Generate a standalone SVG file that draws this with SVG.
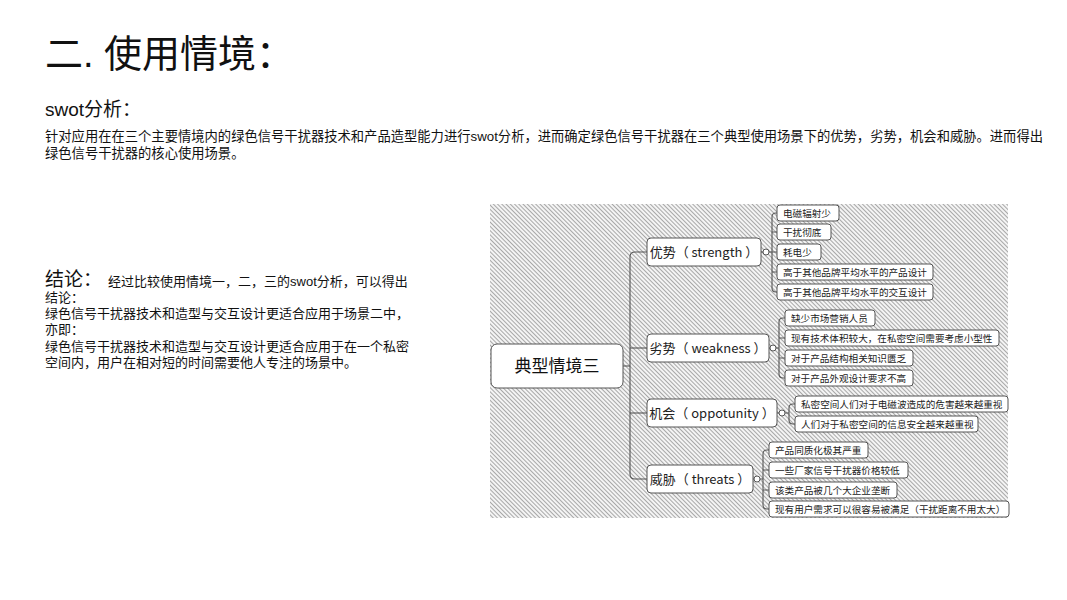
<svg xmlns="http://www.w3.org/2000/svg" width="1067" height="600" viewBox="0 0 1067 600">
<style>
text{font-family:"Liberation Sans","Noto Sans CJK SC",sans-serif;fill:#111}
.title{font-size:38px}
.h2{font-size:19px}
.p{font-size:13.3px}
.c{font-size:13px}
.root rect,.br rect{fill:#fff;stroke:#555;stroke-width:1}
.leaf rect{fill:#fff;stroke:#555;stroke-width:1}
.rt{font-size:17px;text-anchor:middle}
.bt{font-family:"Noto Sans CJK SC",sans-serif;font-size:13px;text-anchor:middle;fill:#222}
.lt{font-size:9.6px;fill:#222}
.con path{fill:none;stroke:#555;stroke-width:1.1}
.con circle{fill:#fff;stroke:#555;stroke-width:1}
</style>
<defs>
<pattern id="hatch" width="3" height="3" patternUnits="userSpaceOnUse" patternTransform="rotate(-45)">
<rect width="3" height="3" fill="#f4f4f4"/>
<line x1="0.5" y1="0" x2="0.5" y2="3" stroke="#a8a8a8" stroke-width="1"/>
</pattern>
</defs>
<rect width="1067" height="600" fill="#fff"/>
<text class="title" x="45" y="67">二. 使用情境：</text>
<text class="h2" x="45" y="116">swot分析：</text>
<text class="p" x="45" y="141">针对应用在在三个主要情境内的绿色信号干扰器技术和产品造型能力进行swot分析，进而确定绿色信号干扰器在三个典型使用场景下的优势，劣势，机会和威胁。进而得出</text>
<text class="p" x="45" y="158">绿色信号干扰器的核心使用场景。</text>
<text x="45" y="286"><tspan class="h2">结论：</tspan><tspan class="c" dx="6">经过比较使用情境一，二，三的swot分析，可以得出</tspan></text>
<text class="c" x="45" y="302">结论：</text>
<text class="c" x="45" y="318">绿色信号干扰器技术和造型与交互设计更适合应用于场景二中，</text>
<text class="c" x="45" y="334">亦即：</text>
<text class="c" x="45" y="351">绿色信号干扰器技术和造型与交互设计更适合应用于在一个私密</text>
<text class="c" x="45" y="367">空间内，用户在相对短的时间需要他人专注的场景中。</text>

<rect x="490" y="204" width="518" height="314" fill="url(#hatch)"/>

<g class="con" id="connectors">
<path d="M623,366 H630"/>
<path d="M647,252 H635 Q630,252 630,257 V474 Q630,479 635,479 H647"/>
<path d="M630,348 H647"/>
<path d="M630,413 H647"/>
<path d="M761,252 H763 M769,252 H777"/>
<path d="M777,213 H776 Q772,213 772,217 V288 Q772,292 776,292 H777 M772,232 H777 M772,272 H777"/>
<circle cx="766" cy="252" r="3"/>
<path d="M769,348 H770 M776,348 H779"/>
<path d="M785,318 H783 Q779,318 779,322 V374 Q779,378 783,378 H785 M779,338 H785 M779,358 H785"/>
<circle cx="773" cy="348" r="3"/>
<path d="M777,413 H779 M785,413 H789"/>
<path d="M795,404 H793 Q789,404 789,408 V420 Q789,424 793,424 H795"/>
<circle cx="782" cy="413" r="3"/>
<path d="M753,479 H754 M760,479 H763"/>
<path d="M769,450 H767 Q763,450 763,454 V505 Q763,509 767,509 H769 M763,470 H769 M763,490 H769"/>
<circle cx="757" cy="479" r="3"/>
</g>

<g class="root" id="root"><rect x="491" y="344" width="132" height="44" rx="6"/><text class="rt" x="557" y="372">典型情境三</text></g>

<g class="br" id="b-strength"><rect x="647" y="238" width="114" height="28" rx="4"/><text class="bt" x="704" y="257">优势（ strength ）</text></g>
<g class="br" id="b-weakness"><rect x="647" y="334" width="122" height="28" rx="4"/><text class="bt" x="708" y="353">劣势（ weakness ）</text></g>
<g class="br" id="b-opp"><rect x="647" y="399" width="130" height="28" rx="4"/><text class="bt" x="712" y="418">机会（ oppotunity ）</text></g>
<g class="br" id="b-threats"><rect x="647" y="465" width="106" height="28" rx="4"/><text class="bt" x="700" y="484">威胁（ threats ）</text></g>

<g class="leaf" id="s1"><rect x="777" y="205" width="62" height="16" rx="3"/><text class="lt" x="783" y="216.5">电磁辐射少</text></g>
<g class="leaf" id="s2"><rect x="777" y="224" width="54" height="16" rx="3"/><text class="lt" x="783" y="235.5">干扰彻底</text></g>
<g class="leaf" id="s3"><rect x="777" y="244" width="44" height="16" rx="3"/><text class="lt" x="783" y="255.5">耗电少</text></g>
<g class="leaf" id="s4"><rect x="777" y="264" width="156" height="16" rx="3"/><text class="lt" x="783" y="275.5">高于其他品牌平均水平的产品设计</text></g>
<g class="leaf" id="s5"><rect x="777" y="284" width="156" height="16" rx="3"/><text class="lt" x="783" y="295.5">高于其他品牌平均水平的交互设计</text></g>

<g class="leaf" id="w1"><rect x="785" y="310" width="90" height="16" rx="3"/><text class="lt" x="791" y="321.5">缺少市场营销人员</text></g>
<g class="leaf" id="w2"><rect x="785" y="330" width="214" height="16" rx="3"/><text class="lt" x="791" y="341.5">现有技术体积较大，在私密空间需要考虑小型性</text></g>
<g class="leaf" id="w3"><rect x="785" y="350" width="128" height="16" rx="3"/><text class="lt" x="791" y="361.5">对于产品结构相关知识匮乏</text></g>
<g class="leaf" id="w4"><rect x="785" y="370" width="128" height="16" rx="3"/><text class="lt" x="791" y="381.5">对于产品外观设计要求不高</text></g>

<g class="leaf" id="o1"><rect x="795" y="396" width="213" height="16" rx="3"/><text class="lt" x="801" y="407.5">私密空间人们对于电磁波造成的危害越来越重视</text></g>
<g class="leaf" id="o2"><rect x="795" y="416" width="183" height="16" rx="3"/><text class="lt" x="801" y="427.5">人们对于私密空间的信息安全越来越重视</text></g>

<g class="leaf" id="t1"><rect x="769" y="442" width="99" height="16" rx="3"/><text class="lt" x="775" y="453.5">产品同质化极其严重</text></g>
<g class="leaf" id="t2"><rect x="769" y="462" width="139" height="16" rx="3"/><text class="lt" x="775" y="473.5">一些厂家信号干扰器价格较低</text></g>
<g class="leaf" id="t3"><rect x="769" y="482" width="128" height="16" rx="3"/><text class="lt" x="775" y="493.5">该类产品被几个大企业垄断</text></g>
<g class="leaf" id="t4"><rect x="769" y="501" width="240" height="16" rx="3"/><text class="lt" x="775" y="512.5">现有用户需求可以很容易被满足（干扰距离不用太大）</text></g>
</svg>
